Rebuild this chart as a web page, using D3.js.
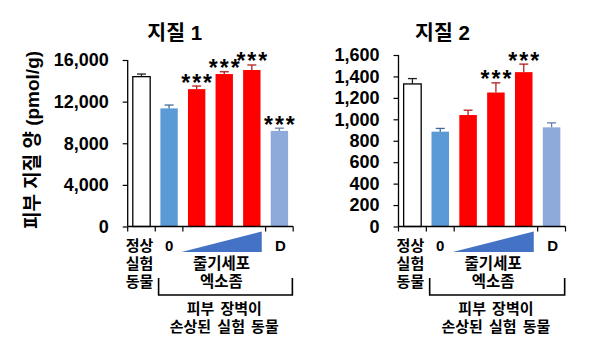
<!DOCTYPE html>
<html>
<head>
<meta charset="utf-8">
<script src="https://cdn.jsdelivr.net/npm/d3@7/dist/d3.min.js"></script>
<style>
  html, body { margin: 0; padding: 0; background: #ffffff; }
  svg { display: block; }
  text { font-family: "Liberation Sans", "Noto Sans CJK KR", Arial, sans-serif; font-weight: bold; fill: #000; }
</style>
</head>
<body>
<svg id="chart" width="600" height="352"></svg>
<script>
// ---------- data ----------
const categories = ["정상 실험 동물", "0", "엑소좀 1", "엑소좀 2", "엑소좀 3", "D"];
const barColors = ["#ffffff", "#5b9bd5", "#ff0000", "#ff0000", "#ff0000", "#8eaadb"];
const errColors = ["#222222", "#3d6c99", "#b02020", "#b02020", "#b02020", "#6a7fa8"];

const lipid1Title = "지질 1";
const lipid1Values = [14400, 11350, 13200, 14650, 15040, 9190];
const lipid1Errors = [250, 320, 300, 220, 480, 260];
const lipid1Sig = [false, false, true, true, true, true];
const lipid1Ticks = [0, 4000, 8000, 12000, 16000];

const lipid2Title = "지질 2";
const lipid2Values = [1330, 885, 1040, 1250, 1440, 925];
const lipid2Errors = [50, 30, 45, 90, 75, 42];
const lipid2Sig = [false, false, false, true, true, false];
const lipid2Ticks = [0, 200, 400, 600, 800, 1000, 1200, 1400, 1600];

const yAxisLabel = "피부 지질 양 (pmol/g)";
const normalLabel = ["정상", "실험", "동물"];
const exosomeLabel = ["줄기세포", "엑소좀"];
const groupLabel = ["피부 장벽이", "손상된 실험 동물"];

// ---------- drawing ----------
const svg = d3.select("#chart");

function panel(opt) {
  const g = svg.append("g");
  const x = d3.scaleBand().domain(d3.range(categories.length))
    .range([opt.x0, opt.x0 + opt.w]).paddingInner(0.37).paddingOuter(0.185);
  const pos = d3.scaleLinear().domain([0, categories.length]).range([opt.x0, opt.x0 + opt.w]);
  const y = d3.scaleLinear().domain([0, opt.ticks[opt.ticks.length - 1]]).range([opt.y0, opt.yTop]);

  // y axis
  const ya = g.append("g").attr("transform", `translate(${opt.x0},0)`)
    .call(d3.axisLeft(y).tickValues(opt.ticks).tickSize(5).tickPadding(opt.pad)
      .tickFormat(d3.format(",")));
  ya.select(".domain").attr("stroke", "#000").attr("stroke-width", 1.3).attr("d", `M0,${opt.y0}V${opt.yTop}`);
  ya.selectAll(".tick line").attr("stroke", "#000").attr("stroke-width", 1.2);
  ya.selectAll(".tick text").attr("font-size", 18).attr("font-family", "Liberation Sans, Arial, sans-serif").attr("font-weight", "bold");

  // bars
  g.selectAll("rect.bar").data(opt.values).join("rect")
    .attr("class", "bar")
    .attr("x", (d, i) => x(i))
    .attr("width", x.bandwidth())
    .attr("y", d => y(d))
    .attr("height", d => opt.y0 - y(d))
    .attr("fill", (d, i) => barColors[i])
    .attr("stroke", (d, i) => i === 0 ? "#000" : "none")
    .attr("stroke-width", 1.3);

  // error bars
  opt.values.forEach((v, i) => {
    const cx = x(i) + x.bandwidth() / 2;
    const top = y(v + opt.errors[i]);
    g.append("line").attr("x1", cx).attr("x2", cx).attr("y1", y(v)).attr("y2", top)
      .attr("stroke", errColors[i]).attr("stroke-width", 1.3);
    g.append("line").attr("x1", cx - 4.5).attr("x2", cx + 4.5).attr("y1", top).attr("y2", top)
      .attr("stroke", errColors[i]).attr("stroke-width", 1.3);
    if (opt.sig[i]) {
      g.append("text").attr("x", cx + 1).attr("y", top - 8 + 12.5)
        .attr("text-anchor", "middle").attr("font-size", 23)
        .attr("letter-spacing", 2)
        .attr("font-family", "Liberation Sans, Arial, sans-serif")
        .text("***");
    }
  });

  // x axis
  g.append("line").attr("x1", opt.x0).attr("x2", opt.x0 + opt.w)
    .attr("y1", opt.y0).attr("y2", opt.y0).attr("stroke", "#000").attr("stroke-width", 1.3);
  [0, 1, 2, 5, 6].forEach(b => {
    g.append("line").attr("x1", pos(b)).attr("x2", pos(b))
      .attr("y1", opt.y0).attr("y2", opt.y0 + 5).attr("stroke", "#000").attr("stroke-width", 1.2);
  });

  // title
  g.append("text").attr("x", opt.x0 + opt.titleDx).attr("y", 40)
    .attr("text-anchor", "middle").attr("font-size", 20.5).text(opt.title);

  // category labels
  const c0 = x(0) + x.bandwidth() / 2 - 2;
  normalLabel.forEach((t, k) => {
    g.append("text").attr("x", c0).attr("y", 250.5 + k * 18.3)
      .attr("text-anchor", "middle").attr("font-size", 15).text(t);
  });
  g.append("text").attr("x", x(1) + x.bandwidth() / 2).attr("y", 250.5)
    .attr("text-anchor", "middle").attr("font-size", 15).text(categories[1]);
  g.append("text").attr("x", x(5) + x.bandwidth() / 2 + 1).attr("y", 250.5)
    .attr("text-anchor", "middle").attr("font-size", 15).text(categories[5]);

  // dose triangle
  const tl = pos(1.95), tr = pos(4.86);
  g.append("path")
    .attr("d", `M${tl},252L${tr},252L${tr},231.5Z`)
    .attr("fill", "#4472c4");

  exosomeLabel.forEach((t, k) => {
    g.append("text").attr("x", pos(3.4)).attr("y", 268.5 + k * 18)
      .attr("text-anchor", "middle").attr("font-size", 15.5).text(t);
  });

  // bracket
  const bl = pos(1.12), br = pos(5.97);
  g.append("path").attr("d", `M${bl},278V295H${br}V278`)
    .attr("fill", "none").attr("stroke", "#000").attr("stroke-width", 1.6);
  groupLabel.forEach((t, k) => {
    g.append("text").attr("x", pos(3.5)).attr("y", 313.5 + k * 18.5)
      .attr("text-anchor", "middle").attr("font-size", 15).attr("word-spacing", 2).text(t);
  });
}

panel({ x0: 127.7, w: 165.5, y0: 226.5, yTop: 60, values: lipid1Values, errors: lipid1Errors,
        sig: lipid1Sig, ticks: lipid1Ticks, title: lipid1Title, titleDx: 47, pad: 14 });
panel({ x0: 398.5, w: 167, y0: 226.5, yTop: 55, values: lipid2Values, errors: lipid2Errors,
        sig: lipid2Sig, ticks: lipid2Ticks, title: lipid2Title, titleDx: 44, pad: 14 });

// y label
svg.append("text").attr("transform", "translate(39,140) rotate(-90)")
  .attr("text-anchor", "middle").attr("font-size", 19).text(yAxisLabel);
</script>
</body>
</html>
